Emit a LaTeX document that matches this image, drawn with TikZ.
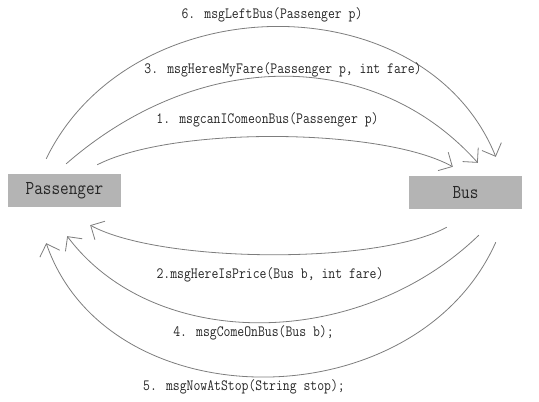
\documentclass[tikz,border=0pt]{standalone}
\usepackage{fontspec}
\usetikzlibrary{arrows.meta}
\newfontfamily\msgfont[FakeStretch=0.85]{Latin Modern Mono}
\definecolor{boxgray}{RGB}{180,180,180}
\definecolor{linegray}{RGB}{125,125,125}

\begin{document}
\begin{tikzpicture}[x=1pt,y=-1pt,
    box/.style={fill=boxgray, minimum width=113pt, minimum height=33pt, inner sep=0pt,
      font=\msgfont\fontsize{19.7}{20}\selectfont, text=black!85},
    msg/.style={draw=linegray, line width=0.8pt, -{Straight Barb[length=10.5pt,width=21pt]}},
    lbl/.style={font=\msgfont\fontsize{15.7}{16}\selectfont, text=black!85}]
  \useasboundingbox (0,0) rectangle (539,402);

  \node[box] (pass) at (64.5,190.5) {Passenger};
  \node[box] (bus) at (465.5,192.5) {Bus};

  % passenger -> bus
  \draw[msg] ([shift={(-24,-9)}]pass.north east) .. controls +(76,-39) and +(-70,-39) .. ([shift={(44,-9)}]bus.north west);
  \draw[msg] ([shift={(-55,-10)}]pass.north east) .. controls +(133,-116) and +(-104,-116) .. ([shift={(69,-13)}]bus.north west);
  \draw[msg] ([shift={(-75,-15)}]pass.north east) .. controls +(85,-175) and +(-71,-175) .. ([shift={(87,-19)}]bus.north west);

  % bus -> passenger
  \draw[msg] ([shift={(38,18)}]bus.south west) .. controls +(-69,38) and +(70,38) .. ([shift={(-31,18)}]pass.south east);
  \draw[msg] ([shift={(70,26)}]bus.south west) .. controls +(-120,116) and +(87,116) .. ([shift={(-54,29)}]pass.south east);
  \draw[msg] ([shift={(87,33)}]bus.south west) .. controls +(-80,179) and +(62,179) .. ([shift={(-75,36)}]pass.south east);

  \node[lbl] (m6) at (272,15) {6. msgLeftBus(Passenger p)};
  \node[lbl] (m3) at (283,70) {3. msgHeresMyFare(Passenger p, int fare)};
  \node[lbl] (m1) at (267.5,120) {1. msgcanIComeonBus(Passenger p)};
  \node[lbl] (m2) at (270,275) {2.msgHereIsPrice(Bus b, int fare)};
  \node[lbl] (m4) at (253.5,333) {4. msgComeOnBus(Bus b);};
  \node[lbl] (m5) at (244,387) {5. msgNowAtStop(String stop);};
\end{tikzpicture}
\end{document}
